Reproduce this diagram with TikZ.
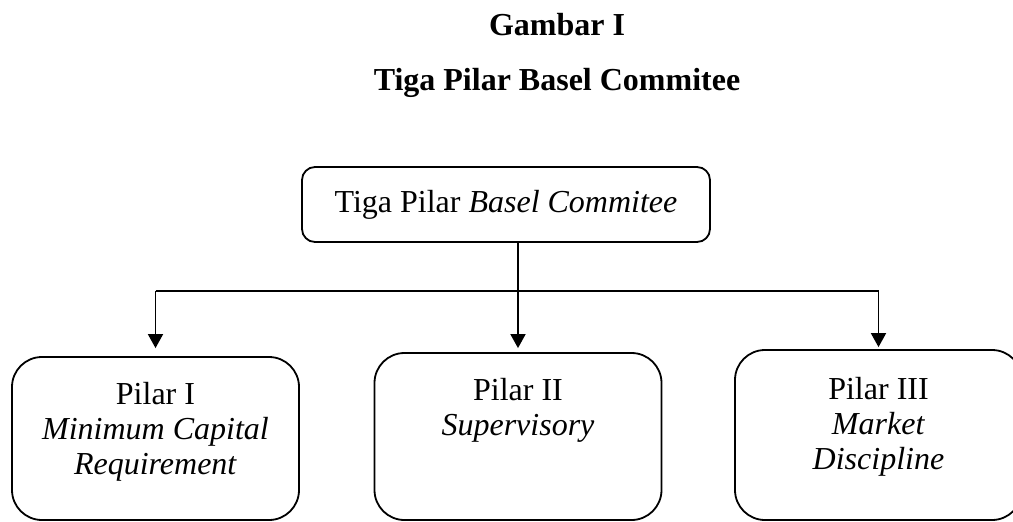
\documentclass[tikz,border=0pt]{standalone}
\usepackage{fontspec}
\setmainfont{Liberation Serif}
\usetikzlibrary{arrows.meta,calc}
\tikzset{
	judul/.style={inner sep=0pt, font=\fontsize{32}{35}\selectfont\bfseries},
	puncakbox/.style={draw, line width=1.8pt, rounded corners=13pt, minimum width=408pt, minimum height=75pt, inner sep=0pt, font=\fontsize{32}{35}\selectfont},
	pilarbox/.style={draw, line width=1.8pt, rounded corners=30pt, minimum width=287pt, inner sep=0pt},
	isi/.style={align=center, inner sep=0pt, font=\fontsize{32}{35}\selectfont},
	garis/.style={line width=1.8pt},
	panah/.style={line width=1.8pt, -{Triangle[width=15pt,length=14pt]}},
}

\begin{document}
\begin{tikzpicture}[x=1pt, y=-1pt]
			%%%%% START %%%%%
			\useasboundingbox (0,0) rectangle (1013,522);
			
			\node[judul, anchor=base] (judul1) at (557,35) {Gambar I};
			\node[judul, anchor=base] (judul2) at (557,90) {Tiga Pilar Basel Commitee};
			
			\node[puncakbox] (puncak) at (506,204.5) {Tiga Pilar \textit{Basel Commitee}};
			
			\node[pilarbox, minimum height=163pt] (pilar1) at (155.5,438.5) {};
			\node[pilarbox, minimum height=167pt] (pilar2) at (518,436.5) {};
			\node[pilarbox, minimum height=170pt] (pilar3) at (878.5,435) {};
			
			\node[isi, anchor=north] (isi1) at ($(pilar1.north)+(0,26)$) {Pilar I\\ \textit{Minimum Capital}\\ \textit{Requirement}};
			\node[isi, anchor=north] (isi2) at ($(pilar2.north)+(0,26)$) {Pilar II\\ \textit{Supervisory}};
			\node[isi, anchor=north] (isi3) at ($(pilar3.north)+(0,28)$) {Pilar III\\ \textit{Market}\\ \textit{Discipline}};
			
			\coordinate (cabang) at (518,291);
			\draw[garis] (cabang -| pilar1.north) -- (cabang -| pilar3.north);
			\draw[panah, shorten >=8pt] (cabang -| pilar1.north) -- (pilar1.north);
			\draw[panah, shorten >=4pt] (puncak.south -| pilar2.north) -- (pilar2.north);
			\draw[panah, shorten >=2pt] (cabang -| pilar3.north) -- (pilar3.north);
			
			%%%%% END %%%%%
\end{tikzpicture}
\end{document}
